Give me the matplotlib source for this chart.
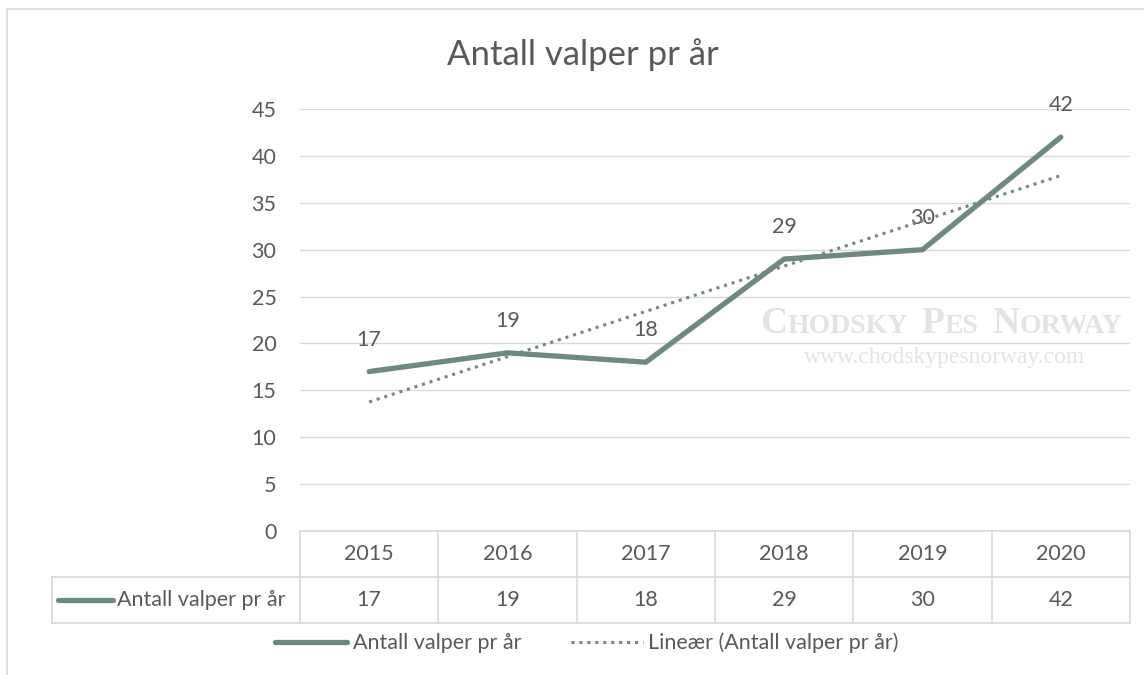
import numpy as np
import matplotlib.pyplot as plt
from matplotlib.transforms import blended_transform_factory
from matplotlib.lines import Line2D

plt.rcParams['font.family'] = ['Lato', 'DejaVu Sans']

years = ['2015', '2016', '2017', '2018', '2019', '2020']
puppies = [17, 19, 18, 29, 30, 42]
series_name = 'Antall valper pr år'
trend_name = 'Lineær (Antall valper pr år)'
title = 'Antall valper pr år'

lineColor = '#6e8a7e'
textColor = '#595959'
gridColor = '#d9d9d9'
fs = 15.5

W, H = 1144, 675
fig = plt.figure(figsize=(W / 100, H / 100), dpi=100)

def fx(px):
    return px / W

def fy(py):
    return 1 - py / H

# outer chart frame
fig.add_artist(Line2D([fx(7), fx(7)], [fy(9), 0], color=gridColor, lw=1.2))
fig.add_artist(Line2D([fx(7), 1], [fy(9), fy(9)], color=gridColor, lw=1.2))

ax = fig.add_axes([fx(300), fy(531), fx(1130) - fx(300), fy(109) - fy(531)])
x = np.arange(1, len(years) + 1)
ax.set_xlim(0.5, len(years) + 0.5)
ax.set_ylim(0, 45)
ax.set_yticks(range(0, 46, 5))
ax.set_xticks([])
ax.grid(axis='y', color=gridColor, lw=1)
ax.set_axisbelow(True)
for s in ax.spines.values():
    s.set_visible(False)
ax.tick_params(axis='y', length=0, pad=17, labelsize=fs, labelcolor=textColor)

ax.plot(x, puppies, color=lineColor, lw=3.8, solid_capstyle='round', zorder=3)
k, b = np.polyfit(x, puppies, 1)
ax.plot(x, k * x + b, color=lineColor, lw=2.2, ls=(0, (1, 1.6)), zorder=4)

for xi, v in zip(x, puppies):
    ax.annotate(str(v), (xi, v), xytext=(0, 23), textcoords='offset points',
                ha='center', va='center', fontsize=fs, color=textColor)

fig.text(fx(583), fy(55), title, ha='center', va='center', fontsize=25, color=textColor)

# data table under the axis
tr = blended_transform_factory(ax.transData, ax.transAxes)
rowH = 46 / 422
left = 0.5 - (300 - 52) / (830 / 6)
kw = dict(transform=tr, color=gridColor, lw=1.2, clip_on=False)
ax.plot([0.5, 6.5], [0, 0], **kw)
ax.plot([left, 6.5], [-rowH, -rowH], **kw)
ax.plot([left, 6.5], [-2 * rowH, -2 * rowH], **kw)
ax.plot([left, left], [-rowH, -2 * rowH], **kw)
for xb in np.arange(0.5, 7.0, 1):
    ax.plot([xb, xb], [0, -2 * rowH], **kw)
for xi, yr, v in zip(x, years, puppies):
    ax.text(xi, -0.5 * rowH, yr, transform=tr, ha='center', va='center',
            fontsize=fs, color=textColor)
    ax.text(xi, -1.5 * rowH, str(v), transform=tr, ha='center', va='center',
            fontsize=fs, color=textColor)
ax.plot([left + 0.045, left + 0.44], [-1.5 * rowH, -1.5 * rowH], transform=tr,
        color=lineColor, lw=3.8, solid_capstyle='round', clip_on=False)
ax.text(left + 0.47, -1.5 * rowH, series_name, transform=tr, ha='left', va='center',
        fontsize=fs, color=textColor)

# legend
handles = [Line2D([], [], color=lineColor, lw=3.8, solid_capstyle='round'),
           Line2D([], [], color=lineColor, lw=2.2, ls=(0, (1, 1.6)))]
fig.legend(handles, [series_name, trend_name], loc='center', ncol=2,
           bbox_to_anchor=(fx(587), fy(643)), frameon=False, fontsize=fs,
           labelcolor=textColor, handlelength=3.35, handletextpad=0.25, columnspacing=2.3)

# watermark
wm = '#e3e3e3'
parts = [('C', 27), ('HODSKY', 20), ('  ', 20), ('P', 27), ('ES', 20), ('  ', 20), ('N', 27), ('ORWAY', 20)]
renderer = fig.canvas.get_renderer()
cur = fx(760)
for s, size in parts:
    t = fig.text(cur, fy(333), s, family='Liberation Serif', fontsize=size, color=wm,
                 fontweight='bold', ha='left', va='baseline')
    cur += t.get_window_extent(renderer).width / W
fig.text(fx(945), fy(357), 'www.chodskypesnorway.com', family='Liberation Serif',
         fontsize=17, color=wm, ha='center', va='center')

plt.savefig('out.png', dpi=100)
